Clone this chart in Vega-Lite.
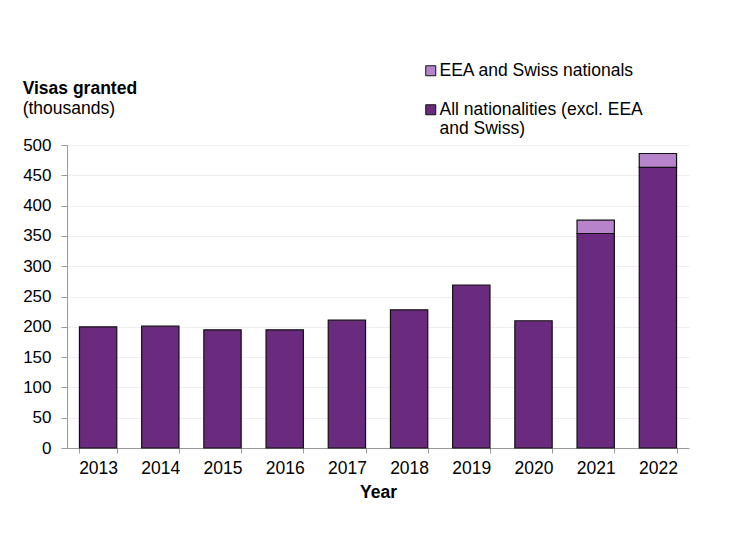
{
  "$schema": "https://vega.github.io/schema/vega-lite/v6.json",
  "autosize": "none",
  "width": 622,
  "height": 303,
  "padding": {"left": 67, "top": 145, "right": 47, "bottom": 97},
  "background": "white",
  "config": {
    "font": "Liberation Sans",
    "view": {"stroke": null}
  },
  "title": {
    "text": "Visas granted",
    "subtitle": "(thousands)",
    "anchor": "start",
    "frame": "bounds",
    "fontSize": 17.5,
    "fontWeight": "bold",
    "color": "#000000",
    "subtitleFontSize": 17.5,
    "subtitleColor": "#000000",
    "subtitlePadding": 2,
    "offset": -55
  },
  "data": {
    "values": [
      {"year": "2013", "nationality": "All nationalities (excl. EEA and Swiss)", "value": 200},
      {"year": "2014", "nationality": "All nationalities (excl. EEA and Swiss)", "value": 201},
      {"year": "2015", "nationality": "All nationalities (excl. EEA and Swiss)", "value": 195},
      {"year": "2016", "nationality": "All nationalities (excl. EEA and Swiss)", "value": 195},
      {"year": "2017", "nationality": "All nationalities (excl. EEA and Swiss)", "value": 211},
      {"year": "2018", "nationality": "All nationalities (excl. EEA and Swiss)", "value": 228},
      {"year": "2019", "nationality": "All nationalities (excl. EEA and Swiss)", "value": 269},
      {"year": "2020", "nationality": "All nationalities (excl. EEA and Swiss)", "value": 210},
      {"year": "2021", "nationality": "All nationalities (excl. EEA and Swiss)", "value": 354},
      {"year": "2022", "nationality": "All nationalities (excl. EEA and Swiss)", "value": 463},
      {"year": "2021", "nationality": "EEA and Swiss nationals", "value": 22},
      {"year": "2022", "nationality": "EEA and Swiss nationals", "value": 23}
    ]
  },
  "mark": {"type": "bar", "stroke": "#111111", "strokeWidth": 1.2},
  "encoding": {
    "x": {
      "field": "year",
      "type": "nominal",
      "title": "Year",
      "scale": {"paddingInner": 0.4, "paddingOuter": 0.2},
      "axis": {
        "labelAngle": 0,
        "labelFontSize": 17.5,
        "labelColor": "#000000",
        "labelPadding": 6,
        "tickBand": "extent",
        "tickSize": 5,
        "tickColor": "#999999",
        "domainColor": "#999999",
        "titleFontSize": 17.5,
        "titleFontWeight": "bold",
        "titleColor": "#000000",
        "titlePadding": 7
      }
    },
    "y": {
      "field": "value",
      "type": "quantitative",
      "stack": "zero",
      "title": null,
      "scale": {"domain": [0, 500], "nice": false},
      "axis": {
        "values": [0, 50, 100, 150, 200, 250, 300, 350, 400, 450, 500],
        "labelFontSize": 17,
        "labelColor": "#000000",
        "labelPadding": 10,
        "tickSize": 6,
        "tickColor": "#999999",
        "domainColor": "#999999",
        "gridColor": "#eeeeee",
        "grid": true
      }
    },
    "color": {
      "field": "nationality",
      "type": "nominal",
      "scale": {
        "domain": ["EEA and Swiss nationals", "All nationalities (excl. EEA and Swiss)"],
        "range": ["#b784cc", "#6a2a7d"]
      },
      "legend": {
        "title": null,
        "orient": "none",
        "legendX": 355,
        "legendY": -83,
        "padding": 0,
        "symbolType": "square",
        "symbolSize": 100,
        "symbolStrokeColor": "#111111",
        "symbolStrokeWidth": 1,
        "labelFontSize": 17.5,
        "labelColor": "#000000",
        "labelOffset": 0,
        "rowPadding": 20,
        "labelLimit": 300,
        "labelExpr": "datum.label == 'All nationalities (excl. EEA and Swiss)' ? ['All nationalities (excl. EEA', 'and Swiss)'] : datum.label"
      }
    },
    "order": {"field": "nationality", "sort": "ascending"}
  }
}
